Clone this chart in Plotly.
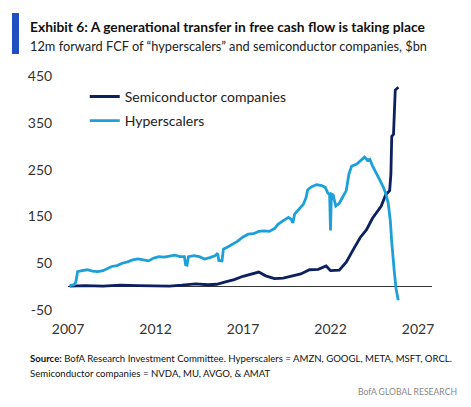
import plotly.graph_objects as go

# 12m forward FCF, $bn
hyper_years = [2007.1, 2007.35, 2007.45, 2007.55, 2007.8, 2008.1, 2008.4, 2008.7, 2009.0, 2009.3,
               2009.5, 2009.8, 2010.1, 2010.4, 2010.7, 2011.0, 2011.3, 2011.6, 2011.9, 2012.2,
               2012.5, 2012.8, 2013.1, 2013.4, 2013.65, 2013.72, 2013.8, 2013.88, 2014.2, 2014.5,
               2014.8, 2015.1, 2015.4, 2015.55, 2015.62, 2015.8, 2015.88, 2016.1, 2016.4, 2016.7,
               2017.0, 2017.3, 2017.6, 2017.9, 2018.2, 2018.5, 2018.8, 2019.0, 2019.3, 2019.6,
               2019.75, 2019.85, 2019.95, 2020.2, 2020.45, 2020.6, 2020.7, 2020.9, 2021.2, 2021.5,
               2021.7, 2021.85, 2021.95, 2022.0, 2022.05, 2022.15, 2022.3, 2022.5, 2022.7, 2022.9,
               2023.05, 2023.2, 2023.5, 2023.75, 2023.95, 2024.1, 2024.25, 2024.4, 2024.6, 2024.8,
               2025.0, 2025.15, 2025.3, 2025.42, 2025.5, 2025.58, 2025.65, 2025.75, 2025.87]
hyper_vals = [2, 4, 10, 32, 34, 36, 33, 32, 34, 39,
              43, 45, 50, 53, 57, 59, 57, 55, 61, 64,
              63, 65, 67, 64, 64, 47, 46, 64, 66, 64,
              59, 62, 66, 71, 56, 55, 80, 84, 90, 97,
              106, 112, 113, 118, 119, 118, 124, 133, 141, 148,
              144, 136, 155, 165, 176, 190, 207, 213, 218, 216,
              212, 200, 197, 120, 198, 196, 172, 178, 192, 205,
              240, 257, 262, 270, 277, 270, 272, 258, 245, 229,
              214, 200, 178, 140, 95, 52, 30, -5, -29]

semi_years = [2007.1, 2008.0, 2009.0, 2010.0, 2011.0, 2012.0, 2012.8, 2013.5, 2014.3, 2015.0,
              2015.5, 2016.0, 2016.5, 2017.0, 2017.5, 2017.9, 2018.3, 2018.8, 2019.3, 2019.8,
              2020.3, 2020.8, 2021.3, 2021.75, 2022.0, 2022.5, 2022.9, 2023.3, 2023.7, 2024.05,
              2024.4, 2024.9, 2025.15, 2025.38, 2025.45, 2025.5, 2025.6, 2025.7, 2025.88]
semi_vals = [1, 2, 1, 3, 2, 2, 1, 3, 6, 4,
             5, 10, 15, 22, 27, 31, 23, 17, 18, 22,
             27, 36, 37, 44, 34, 35, 52, 79, 105, 121,
             146, 172, 196, 205, 240, 321, 325, 420, 426]

x_ticks = [2007, 2012, 2017, 2022, 2027]
y_ticks = [-50, 50, 150, 250, 350, 450]

NAVY = "#0c1f5e"
LIGHT = "#1d9fd9"
FONT = "Lato"

fig = go.Figure()
fig.add_trace(go.Scatter(x=semi_years, y=semi_vals, mode="lines", name="Semiconductor companies",
                         line=dict(color=NAVY, width=2.8), legendgroup="a"))
fig.add_trace(go.Scatter(x=hyper_years, y=hyper_vals, mode="lines", name="Hyperscalers",
                         line=dict(color=LIGHT, width=2.8), legendgroup="b"))

# page body has an 8px margin, so the figure is a bit smaller than the window
fig.update_layout(
    width=463, height=399,
    margin=dict(l=60, r=39, t=68, b=97),
    paper_bgcolor="white", plot_bgcolor="white",
    font=dict(family=FONT, size=14, color="#333333"),
    showlegend=True,
    legend=dict(x=0.046, y=0.979, xanchor="left", yanchor="top", bgcolor="rgba(0,0,0,0)",
                font=dict(size=14, color="#222222"), tracegroupgap=3),
    xaxis=dict(range=[2007, 2027.8], tickvals=x_ticks, ticktext=[str(v) for v in x_ticks],
               showgrid=False, zeroline=False, showline=False,
               ticks="outside", ticklen=6, tickcolor="white"),
    yaxis=dict(range=[-50, 450], tickvals=y_ticks, ticktext=[str(v) for v in y_ticks],
               showgrid=False, zeroline=True, zerolinecolor="#333333", zerolinewidth=1.3,
               showline=False, ticks="outside", ticklen=12, tickcolor="white"),
)

# header bar
fig.add_shape(type="rect", xref="paper", yref="paper",
              x0=-56 / 364, x1=-49 / 364, y0=(310 - 13) / 234, y1=(310 - 54) / 234,
              fillcolor="#1f4fc1", line=dict(width=0), layer="above")

fig.add_annotation(text="<b>Exhibit 6: A generational transfer in free cash flow is taking place</b>",
                   xref="paper", yref="paper", x=-40 / 364, y=(310 - 26) / 234,
                   xanchor="left", yanchor="middle", showarrow=False,
                   font=dict(family=FONT, size=13.8, color="#111111"))
fig.add_annotation(text="12m forward FCF of “hyperscalers” and semiconductor companies, $bn",
                   xref="paper", yref="paper", x=-40 / 364, y=(310 - 46) / 234,
                   xanchor="left", yanchor="middle", showarrow=False,
                   font=dict(family=FONT, size=12.8, color="#222222"))
fig.add_annotation(text="<b>Source:</b> BofA Research Investment Committee. Hyperscalers = AMZN, GOOGL, META, MSFT, ORCL.",
                   xref="paper", yref="paper", x=-40 / 364, y=(310 - 358) / 234,
                   xanchor="left", yanchor="middle", showarrow=False,
                   font=dict(family=FONT, size=9.6, color="#111111"))
fig.add_annotation(text="Semiconductor companies = NVDA, MU, AVGO, & AMAT",
                   xref="paper", yref="paper", x=-40 / 364, y=(310 - 373) / 234,
                   xanchor="left", yanchor="middle", showarrow=False,
                   font=dict(family=FONT, size=9.6, color="#111111"))
fig.add_annotation(text="BofA GLOBAL RESEARCH",
                   xref="paper", yref="paper", x=(459 - 68) / 364, y=(310 - 392) / 234,
                   xanchor="right", yanchor="middle", showarrow=False,
                   font=dict(family=FONT, size=8.6, color="#888888"))

fig.write_html("out.html")
